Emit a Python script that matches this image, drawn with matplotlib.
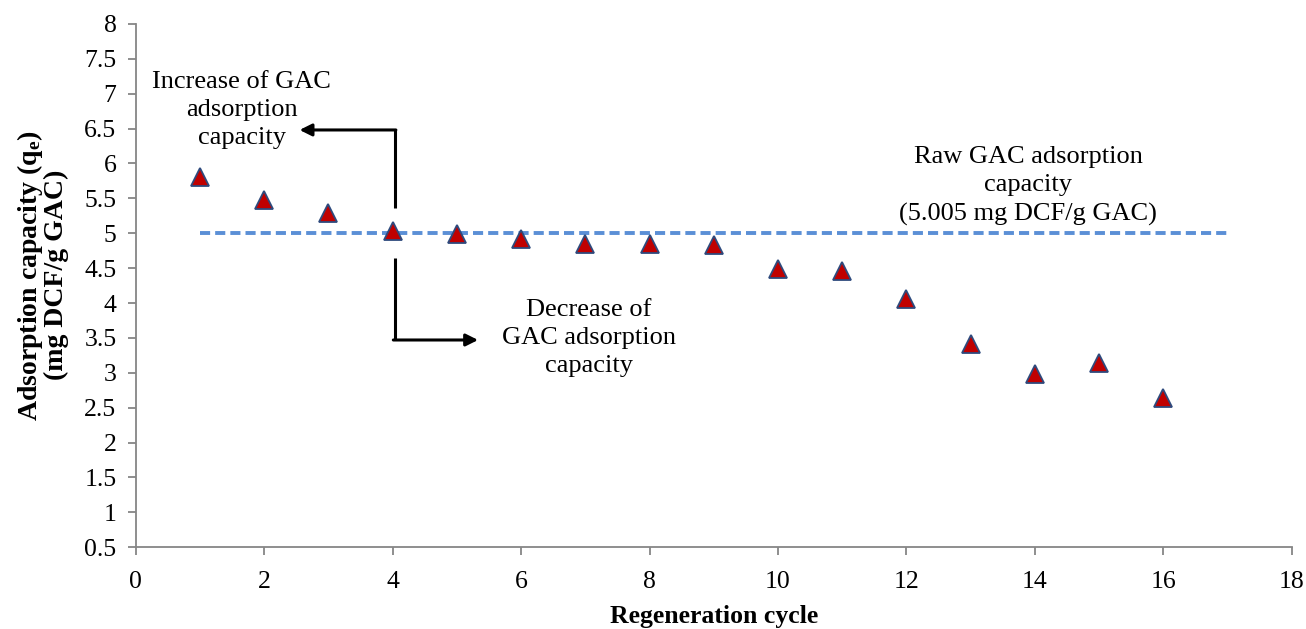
import numpy as np
import matplotlib
matplotlib.use('Agg')
import matplotlib.pyplot as plt

plt.rcParams['font.family'] = ['Liberation Serif', 'DejaVu Serif']
plt.rcParams['mathtext.default'] = 'regular'

# data
cycles = [1, 2, 3, 4, 5, 6, 7, 8, 9, 10, 11, 12, 13, 14, 15, 16]
capacity = [5.81, 5.48, 5.29, 5.03, 4.99, 4.92, 4.85, 4.85, 4.83,
            4.49, 4.46, 4.06, 3.41, 2.98, 3.14, 2.64]
raw_x = [1, 17]
raw_capacity = 5.005

xticks = np.arange(0, 19, 2)
yticks = np.arange(0.5, 8.01, 0.5)

fig = plt.figure(figsize=(13.06, 6.29), dpi=100)
ax = fig.add_axes([0.104, 0.130, 0.885, 0.832])

ax.plot(raw_x, [raw_capacity, raw_capacity], '--', color='#5B8FD6', lw=2.8,
        dashes=(2.6, 1.3), zorder=2)
ax.plot(cycles, capacity, linestyle='none', marker='^', markersize=13,
        markerfacecolor='#C00000', markeredgecolor='#2E4A7D', markeredgewidth=1.3,
        zorder=3)

ax.set_xlim(0, 18)
ax.set_ylim(0.5, 8)
ax.set_xticks(xticks)
ax.set_yticks(yticks)
ax.set_xticklabels([str(v) for v in xticks])
ax.set_yticklabels(['%g' % v for v in yticks])

for s in ['top', 'right']:
    ax.spines[s].set_visible(False)
for s in ['left', 'bottom']:
    ax.spines[s].set_color('#868686')
    ax.spines[s].set_linewidth(1.3)
ax.tick_params(axis='both', direction='out', length=6, width=1.3, color='#868686',
               labelsize=18.5, pad=8)
ax.tick_params(axis='x', pad=11)

ax.set_xlabel('Regeneration cycle', fontsize=18.5, fontweight='bold', labelpad=9)
ax.set_ylabel('Adsorption capacity (q$_e$)\n(mg DCF/g GAC)', fontsize=20,
              fontweight='bold', linespacing=0.95)
ax.yaxis.set_label_coords(-0.058, 0.52)

# annotations
ax.text(1.65, 6.77, 'Increase of GAC\nadsorption\ncapacity', ha='center', va='center',
        fontsize=19, linespacing=1.36)
ax.text(7.06, 3.50, 'Decrease of\nGAC adsorption\ncapacity', ha='center', va='center',
        fontsize=19, linespacing=1.36)
ax.text(13.9, 5.68, 'Raw GAC adsorption\ncapacity\n(5.005 mg DCF/g GAC)', ha='center',
        va='center', fontsize=19, linespacing=1.36)

# elbow arrows
ax.plot([4.03, 4.03], [5.36, 6.48], color='black', lw=2.2, solid_capstyle='butt')
ax.annotate('', xy=(2.55, 6.48), xytext=(4.05, 6.48),
            arrowprops=dict(arrowstyle='-|>', color='black', lw=2.2,
                            mutation_scale=18, shrinkA=0, shrinkB=0))
ax.plot([4.03, 4.03], [4.65, 3.47], color='black', lw=2.2, solid_capstyle='butt')
ax.annotate('', xy=(5.33, 3.47), xytext=(4.01, 3.47),
            arrowprops=dict(arrowstyle='-|>', color='black', lw=2.2,
                            mutation_scale=18, shrinkA=0, shrinkB=0))

fig.savefig('out.png', dpi=100)
